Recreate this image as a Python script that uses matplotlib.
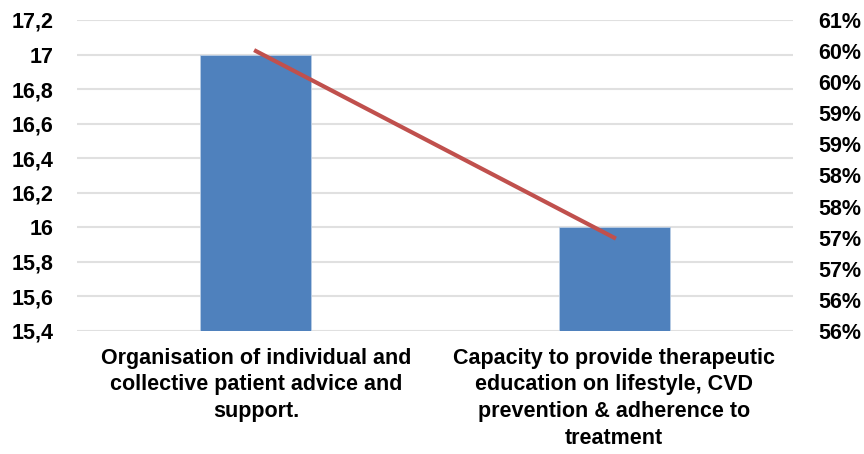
import matplotlib.pyplot as plt
import numpy as np

plt.rcParams['font.family'] = ['Liberation Sans', 'DejaVu Sans']
plt.rcParams['font.weight'] = 'bold'

categories = [
    "Organisation of individual and\ncollective patient advice and\nsupport.",
    "Capacity to provide therapeutic\neducation on lifestyle, CVD\nprevention & adherence to\ntreatment",
]
counts = [17, 16]
shares = [60.0, 57.0]  # percent

left_ticks = np.arange(15.4, 17.21, 0.2)
right_ticks = np.arange(55.5, 60.51, 0.5)

fig, ax = plt.subplots(figsize=(8.64, 4.54), dpi=100)
fig.subplots_adjust(left=0.089, right=0.918, top=0.956, bottom=0.271)

x = np.arange(len(categories))
ax.bar(x, np.array(counts) - 15.4, bottom=15.4, width=0.31, color="#4F81BD",
       edgecolor="#B9CDE5", linewidth=0.6, zorder=3)
ax.set_ylim(15.4, 17.2)
ax.set_yticks(left_ticks)
ax.set_yticklabels([f"{t:.1f}".rstrip("0").rstrip(".").replace(".", ",") for t in left_ticks])
ax.set_xlim(-0.5, 1.5)
ax.set_xticks(x)
ax.set_xticklabels(categories, fontsize=15.5, linespacing=1.36)
ax.grid(axis="y", color="#E0E0E0", linewidth=1.5, zorder=0)
ax.tick_params(axis="y", length=0, labelsize=15.5, pad=17)
ax.tick_params(axis="x", length=0, pad=12)
for s in ax.spines.values():
    s.set_visible(False)

ax2 = ax.twinx()
ax2.plot(x, shares, color="#C0504D", linewidth=3, zorder=4)
ax2.set_ylim(55.5, 60.5)
ax2.set_yticks(right_ticks)
ax2.set_yticklabels([f"{int(np.floor(t + 0.5))}%" for t in right_ticks])
ax2.tick_params(axis="y", length=0, labelsize=15.5, pad=18)
for s in ax2.spines.values():
    s.set_visible(False)

fig.savefig("out.png")
